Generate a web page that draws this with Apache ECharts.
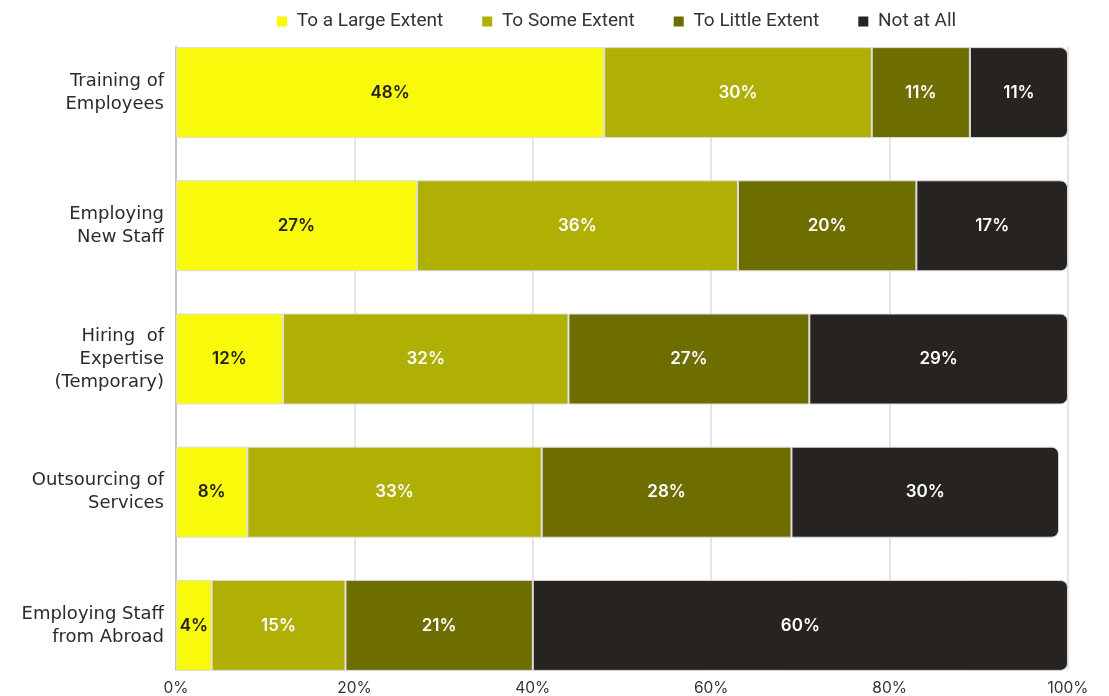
<!DOCTYPE html>
<html>
<head>
<meta charset="utf-8">
<script src="https://cdn.jsdelivr.net/npm/echarts@6/dist/echarts.min.js"></script>
<style>
  html, body { margin: 0; padding: 0; background: #fff; }
  #chart { width: 1109px; height: 696px; }
</style>
</head>
<body>
<div id="chart"></div>
<script>
// Survey responses per measure (percent of respondents)
const categories = [
  'Training of\nEmployees',
  'Employing\nNew Staff',
  'Hiring  of\nExpertise\n(Temporary)',
  'Outsourcing of\nServices',
  'Employing Staff\nfrom Abroad'
];
const seriesNames = ['To a Large Extent', 'To Some Extent', 'To Little Extent', 'Not at All'];
const largeExtent = [48, 27, 12, 8, 4];
const someExtent = [30, 36, 32, 33, 15];
const littleExtent = [11, 20, 27, 28, 21];
const notAtAll = [11, 17, 29, 30, 60];
const xTicks = [0, 20, 40, 60, 80, 100];

const colors = ['#f9f90b', '#b0af03', '#6e6e00', '#262320'];
const labelColors = ['#222222', '#ffffff', '#ffffff', '#ffffff'];
const values = [largeExtent, someExtent, littleExtent, notAtAll];

const chart = echarts.init(document.getElementById('chart'));

const series = seriesNames.map((name, i) => ({
  name: name,
  type: 'bar',
  stack: 'total',
  xAxisIndex: 1,
  yAxisIndex: 1,
  barWidth: 91,
  data: values[i],
  itemStyle: {
    color: colors[i],
    borderColor: '#dcdcdc',
    borderWidth: 1,
    borderRadius: i === 3 ? [0, 7, 7, 0] : 0
  },
  label: {
    show: true,
    position: 'inside',
    formatter: '{c}%',
    color: labelColors[i],
    fontFamily: 'Inter',
    fontSize: 17,
    fontWeight: 600
  },
  emphasis: { disabled: true }
}));

chart.setOption({
  animation: false,
  backgroundColor: '#ffffff',
  legend: {
    top: 7,
    left: 272,
    icon: 'rect',
    itemWidth: 10,
    itemHeight: 10,
    itemGap: 39,
    data: seriesNames,
    formatter: name => ' ' + name,
    itemStyle: { borderWidth: 0 },
    textStyle: { fontFamily: 'Roboto', fontSize: 19, color: '#333333' }
  },
  grid: [
    // background grid: value ticks, split lines and the left axis line
    { left: 176, right: 41, top: 47, bottom: 25 },
    // bars
    { left: 176, right: 41, top: 26, bottom: 4 }
  ],
  xAxis: [
    {
      gridIndex: 0,
      type: 'value',
      min: xTicks[0],
      max: xTicks[xTicks.length - 1],
      interval: xTicks[1] - xTicks[0],
      axisLine: { show: false },
      axisTick: { show: false },
      splitLine: { show: true, lineStyle: { color: '#dddddd', width: 1.5 } },
      axisLabel: {
        formatter: '{value}%',
        margin: 10,
        fontFamily: 'Inter',
        fontSize: 15.5,
        color: '#333333'
      }
    },
    {
      gridIndex: 1,
      type: 'value',
      min: 0,
      max: 100,
      show: false
    }
  ],
  yAxis: [
    {
      gridIndex: 0,
      type: 'value',
      min: 0,
      max: 1,
      axisLine: { show: true, lineStyle: { color: '#c4c4c4', width: 2 } },
      axisTick: { show: false },
      axisLabel: { show: false },
      splitLine: { show: false }
    },
    {
      gridIndex: 1,
      type: 'category',
      inverse: true,
      data: categories,
      axisLine: { show: false },
      axisTick: { show: false },
      splitLine: { show: false },
      axisLabel: {
        margin: 12,
        align: 'right',
        fontFamily: 'DejaVu Sans',
        fontSize: 18,
        lineHeight: 23,
        color: '#2b2b2b'
      }
    }
  ],
  series: series
});
</script>
</body>
</html>
